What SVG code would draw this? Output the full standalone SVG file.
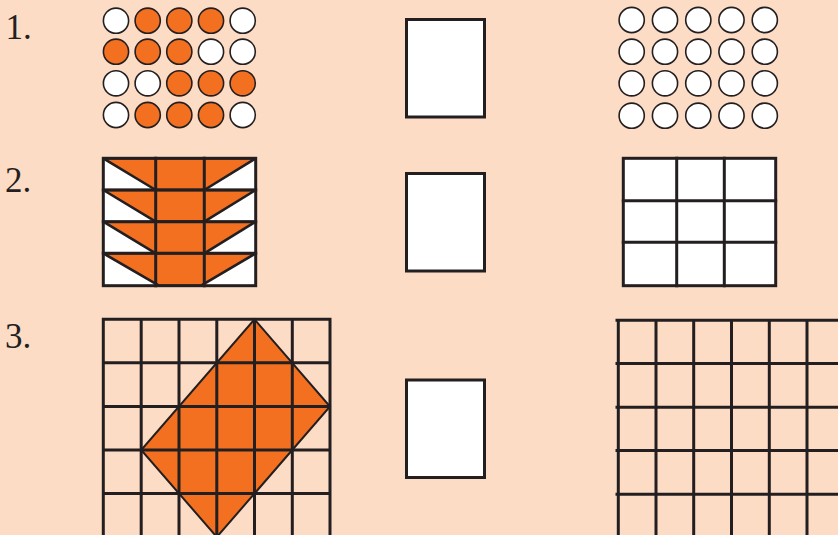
<svg xmlns="http://www.w3.org/2000/svg" width="838" height="535" viewBox="0 0 838 535">
  <style>
    .lbl { font-family: "Liberation Serif", "Times New Roman", serif; font-size: 35px; fill: #231f20; }
    .c { stroke: #231f20; stroke-width: 1.6; }
    .w { fill: #ffffff; }
    .o { fill: #f37021; }
    .box { fill: #ffffff; stroke: #231f20; stroke-width: 3; }
    .ln { stroke: #231f20; stroke-width: 3; fill: none; stroke-linecap: square; }
    .trap { fill: #f37021; stroke: #231f20; stroke-width: 2.6; stroke-linejoin: round; }
  </style>
  <rect width="838" height="535" fill="#fddcc6"/>

  <g id="labels">
    <text class="lbl" x="5.5" y="39">1.</text>
    <text class="lbl" x="5" y="192">2.</text>
    <text class="lbl" x="5" y="348">3.</text>
  </g>

  <g id="dots-left">
    <circle class="c w" cx="116" cy="20.7" r="12.6"/>
    <circle class="c o" cx="147.7" cy="20.7" r="12.6"/>
    <circle class="c o" cx="179.3" cy="20.7" r="12.6"/>
    <circle class="c o" cx="211" cy="20.7" r="12.6"/>
    <circle class="c w" cx="242.7" cy="20.7" r="12.6"/>

    <circle class="c o" cx="116" cy="51.7" r="12.6"/>
    <circle class="c o" cx="147.7" cy="51.7" r="12.6"/>
    <circle class="c o" cx="179.3" cy="51.7" r="12.6"/>
    <circle class="c w" cx="211" cy="51.7" r="12.6"/>
    <circle class="c w" cx="242.7" cy="51.7" r="12.6"/>

    <circle class="c w" cx="116" cy="83.3" r="12.6"/>
    <circle class="c w" cx="147.7" cy="83.3" r="12.6"/>
    <circle class="c o" cx="179.3" cy="83.3" r="12.6"/>
    <circle class="c o" cx="211" cy="83.3" r="12.6"/>
    <circle class="c o" cx="242.7" cy="83.3" r="12.6"/>

    <circle class="c w" cx="116" cy="115" r="12.6"/>
    <circle class="c o" cx="147.7" cy="115" r="12.6"/>
    <circle class="c o" cx="179.3" cy="115" r="12.6"/>
    <circle class="c o" cx="211" cy="115" r="12.6"/>
    <circle class="c w" cx="242.7" cy="115" r="12.6"/>
  </g>

  <g id="box-1"><rect class="box" x="406.5" y="19.5" width="78" height="97.5"/></g>
  <g id="box-2"><rect class="box" x="406.5" y="173.5" width="78" height="97.5"/></g>
  <g id="box-3"><rect class="box" x="406.5" y="380" width="78" height="97.5"/></g>

  <g id="dots-right" class="c w">
    <circle cx="631.7" cy="20" r="12.6"/><circle cx="665" cy="20" r="12.6"/><circle cx="698.3" cy="20" r="12.6"/><circle cx="731.5" cy="20" r="12.6"/><circle cx="764.8" cy="20" r="12.6"/>
    <circle cx="631.7" cy="51.7" r="12.6"/><circle cx="665" cy="51.7" r="12.6"/><circle cx="698.3" cy="51.7" r="12.6"/><circle cx="731.5" cy="51.7" r="12.6"/><circle cx="764.8" cy="51.7" r="12.6"/>
    <circle cx="631.7" cy="83.3" r="12.6"/><circle cx="665" cy="83.3" r="12.6"/><circle cx="698.3" cy="83.3" r="12.6"/><circle cx="731.5" cy="83.3" r="12.6"/><circle cx="764.8" cy="83.3" r="12.6"/>
    <circle cx="631.7" cy="115.7" r="12.6"/><circle cx="665" cy="115.7" r="12.6"/><circle cx="698.3" cy="115.7" r="12.6"/><circle cx="731.5" cy="115.7" r="12.6"/><circle cx="764.8" cy="115.7" r="12.6"/>
  </g>

  <g id="shape-2-left">
    <rect x="103.3" y="158.3" width="152.4" height="127.4" fill="#ffffff"/>
    <polygon class="trap" points="103.3,158.3 255.7,158.3 204.3,190 155.7,190"/>
    <polygon class="trap" points="103.3,190 255.7,190 204.3,221.7 155.7,221.7"/>
    <polygon class="trap" points="103.3,221.7 255.7,221.7 204.3,253.3 155.7,253.3"/>
    <polygon class="trap" points="103.3,253.3 255.7,253.3 201,285.7 159,285.7"/>
    <path class="ln" d="M155.7,158.3V285.7M204.3,158.3V285.7M103.3,190H255.7M103.3,221.7H255.7M103.3,253.3H255.7"/>
    <rect x="103.3" y="158.3" width="152.4" height="127.4" class="ln"/>
  </g>

  <g id="grid-2-right">
    <rect x="623.3" y="158.3" width="152.4" height="127.4" fill="#ffffff"/>
    <path class="ln" d="M676.7,158.3V285.7M724.3,158.3V285.7M623.3,200.7H775.7M623.3,242.3H775.7"/>
    <rect x="623.3" y="158.3" width="152.4" height="127.4" class="ln"/>
  </g>

  <g id="grid-3-left">
    <polygon points="254.5,319.3 330,406.5 216.8,537 141.2,450" fill="#f37021" stroke="#231f20" stroke-width="2"/>
    <path class="ln" d="M103.3,319.3V540M141.2,319.3V540M179,319.3V540M216.8,319.3V540M254.5,319.3V540M292.3,319.3V540M330,319.3V540M103.3,319.3H330M103.3,362.8H330M103.3,406.5H330M103.3,450H330M103.3,493.5H330"/>
  </g>

  <g id="grid-3-right">
    <path class="ln" d="M618.3,320.3V540M656,320.3V540M693.7,320.3V540M731.5,320.3V540M769.3,320.3V540M807,320.3V540M617,320.3H840M617,363.5H840M617,407.3H840M617,450.5H840M617,494.3H840"/>
  </g>
</svg>
